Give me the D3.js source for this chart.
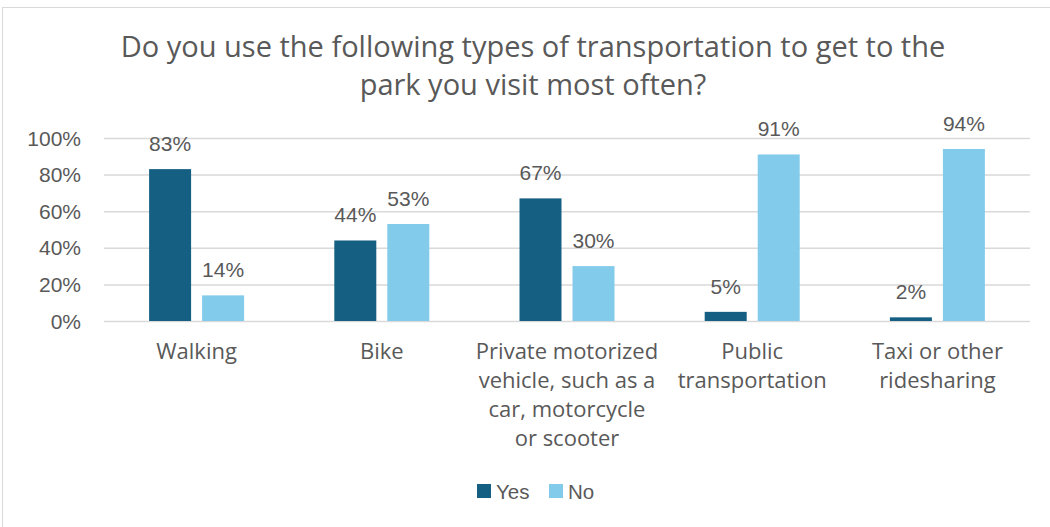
<!DOCTYPE html>
<html><head><meta charset="utf-8">
<script src="https://cdn.jsdelivr.net/npm/d3@7"></script>
<style>body{margin:0;background:#fff;font-family:"Open Sans",sans-serif;}</style>
</head><body><svg id="c" width="1050" height="527"></svg>
<script>
const categories = [["Walking"],["Bike"],["Private motorized","vehicle, such as a","car, motorcycle","or scooter"],["Public","transportation"],["Taxi or other","ridesharing"]];
const seriesNames = ["Yes","No"];
const yesValues = [83,44,67,5,2];
const noValues = [14,53,30,91,94];
const yTicks = [0,20,40,60,80,100];
const titleLines = ["Do you use the following types of transportation to get to the","park you visit most often?"];
const colors = {Yes:"#156082", No:"#83CBEB"};
const txt = "#595959";
const arial = "'Liberation Sans', Arial, sans-serif";

const svg = d3.select("#c");
svg.append("rect").attr("x",2.5).attr("y",7.5).attr("width",1060).attr("height",540).attr("fill","#fff").attr("stroke","#D9D9D9");

svg.append("text").attr("x",533).attr("y",57).attr("text-anchor","middle").attr("fill",txt).attr("font-size",29)
  .selectAll("tspan").data(titleLines).join("tspan").attr("x",533).attr("dy",(d,i)=>i?38:0).text(d=>d);

const x = d3.scaleBand().domain(d3.range(categories.length)).range([104,1030]);
const x1 = d3.scaleBand().domain(seriesNames).range([x.bandwidth()/2-47.5, x.bandwidth()/2+47.5]).paddingInner(11/53);
const y = d3.scaleLinear().domain([0,100]).range([321,138]);

svg.append("g").selectAll("line").data(yTicks).join("line")
  .attr("x1",104).attr("x2",1030).attr("y1",d=>y(d)+0.5).attr("y2",d=>y(d)+0.5)
  .attr("stroke","#D9D9D9").attr("stroke-width",1.5);
svg.append("g").selectAll("text").data(yTicks).join("text")
  .attr("x",81).attr("y",d=>y(d)+7.5).attr("text-anchor","end").attr("fill",txt).attr("font-size",21).attr("font-family",arial)
  .text(d=>d+"%");

const data = seriesNames.map(s=>({s, vals: s==="Yes"?yesValues:noValues}));
const g = svg.append("g");
data.forEach(ser=>{
  g.selectAll(null).data(ser.vals).join("rect")
    .attr("x",(d,i)=>x(i)+x1(ser.s)).attr("width",x1.bandwidth())
    .attr("y",d=>y(d)).attr("height",d=>y(0)-y(d)).attr("fill",colors[ser.s]);
  g.selectAll(null).data(ser.vals).join("text")
    .attr("x",(d,i)=>x(i)+x1(ser.s)+x1.bandwidth()/2).attr("y",d=>y(d)-18)
    .attr("text-anchor","middle").attr("fill",txt).attr("font-size",21).attr("font-family",arial).text(d=>d+"%");
});

svg.append("g").selectAll("text").data(categories).join("text")
  .attr("x",(d,i)=>x(i)+x.bandwidth()/2).attr("y",359).attr("text-anchor","middle").attr("fill",txt).attr("font-size",22)
  .each(function(d,i){
    d3.select(this).selectAll("tspan").data(d).join("tspan").attr("x",x(i)+x.bandwidth()/2).attr("dy",(t,j)=>j?29:0).text(t=>t);
  });

const leg = svg.append("g");
const legX = [477,549];
seriesNames.forEach((s,i)=>{
  leg.append("rect").attr("x",legX[i]).attr("y",484).attr("width",14).attr("height",14).attr("fill",colors[s]);
  leg.append("text").attr("x",legX[i]+19).attr("y",499).attr("fill",txt).attr("font-size",20.5).attr("font-family",arial).text(s);
});
</script></body></html>
